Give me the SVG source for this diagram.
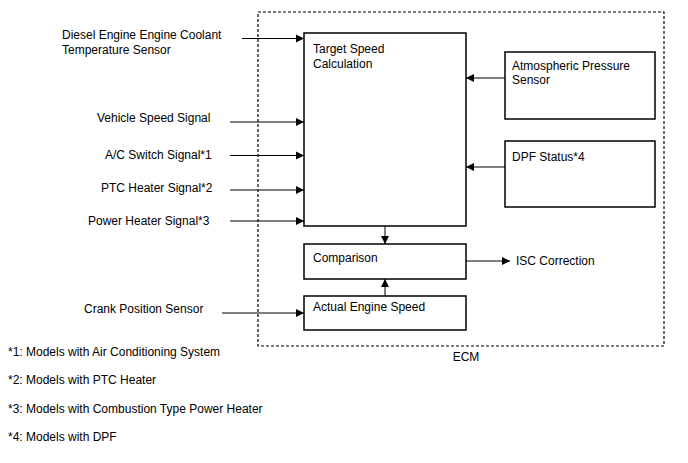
<svg xmlns="http://www.w3.org/2000/svg" width="688" height="463" viewBox="0 0 688 463">
<defs>
<marker id="ah" viewBox="0 0 10 10" refX="10" refY="5" markerWidth="8" markerHeight="10" markerUnits="userSpaceOnUse" orient="auto">
<path d="M0,0 L10,5 L0,10 z" fill="#000"/>
</marker>
</defs>
<style>
text{font-family:"Liberation Sans",Arial,sans-serif;font-size:12px;fill:#000}
.box{fill:#fff;stroke:#000;stroke-width:1.5}
.ecm{fill:none;stroke:#000;stroke-width:1.2;stroke-dasharray:3,2}
.c{fill:none;stroke:#000;stroke-width:1;marker-end:url(#ah)}
</style>
<rect width="688" height="463" fill="#fff"/>
<g id="ecm">
<rect class="ecm" x="258" y="12" width="406" height="334"/>
<text x="466" y="361" text-anchor="middle">ECM</text>
</g>
<g id="connectors">
<line class="c" x1="242" y1="38.5" x2="304" y2="38.5"/>
<line class="c" x1="230" y1="122" x2="304" y2="122"/>
<line class="c" x1="230" y1="155.5" x2="304" y2="155.5"/>
<line class="c" x1="230" y1="190" x2="304" y2="190"/>
<line class="c" x1="230" y1="221" x2="304" y2="221"/>
<line class="c" x1="222" y1="313" x2="304" y2="313"/>
<line class="c" x1="505" y1="78" x2="466" y2="78"/>
<line class="c" x1="505" y1="167" x2="466" y2="167"/>
<line class="c" x1="385" y1="226" x2="385" y2="244"/>
<line class="c" x1="385" y1="296" x2="385" y2="279"/>
<line class="c" x1="466" y1="261" x2="510" y2="261"/>
</g>
<g id="n-target">
<rect class="box" x="304" y="33" width="162" height="193"/>
<text x="313" y="53">Target Speed</text>
<text x="313" y="68">Calculation</text>
</g>
<g id="n-atm">
<rect class="box" x="505" y="52" width="150" height="67"/>
<text x="512" y="70">Atmospheric Pressure</text>
<text x="512" y="84">Sensor</text>
</g>
<g id="n-dpf">
<rect class="box" x="505" y="141" width="150" height="66"/>
<text x="512" y="161">DPF Status*4</text>
</g>
<g id="n-comparison">
<rect class="box" x="304" y="244" width="162" height="35"/>
<text x="313" y="262">Comparison</text>
</g>
<g id="n-actual">
<rect class="box" x="304" y="296" width="162" height="34"/>
<text x="313" y="311">Actual Engine Speed</text>
</g>
<g id="n-isc">
<text x="516" y="265">ISC Correction</text>
</g>
<g id="n-inputs">
<text x="62" y="39">Diesel Engine Engine Coolant</text>
<text x="62" y="54">Temperature Sensor</text>
<text x="97" y="122">Vehicle Speed Signal</text>
<text x="105" y="159">A/C Switch Signal*1</text>
<text x="101" y="192">PTC Heater Signal*2</text>
<text x="88" y="225">Power Heater Signal*3</text>
<text x="84" y="313">Crank Position Sensor</text>
</g>
<g id="notes">
<text x="8" y="356">*1: Models with Air Conditioning System</text>
<text x="8" y="384">*2: Models with PTC Heater</text>
<text x="8" y="413">*3: Models with Combustion Type Power Heater</text>
<text x="8" y="441">*4: Models with DPF</text>
</g>
</svg>
